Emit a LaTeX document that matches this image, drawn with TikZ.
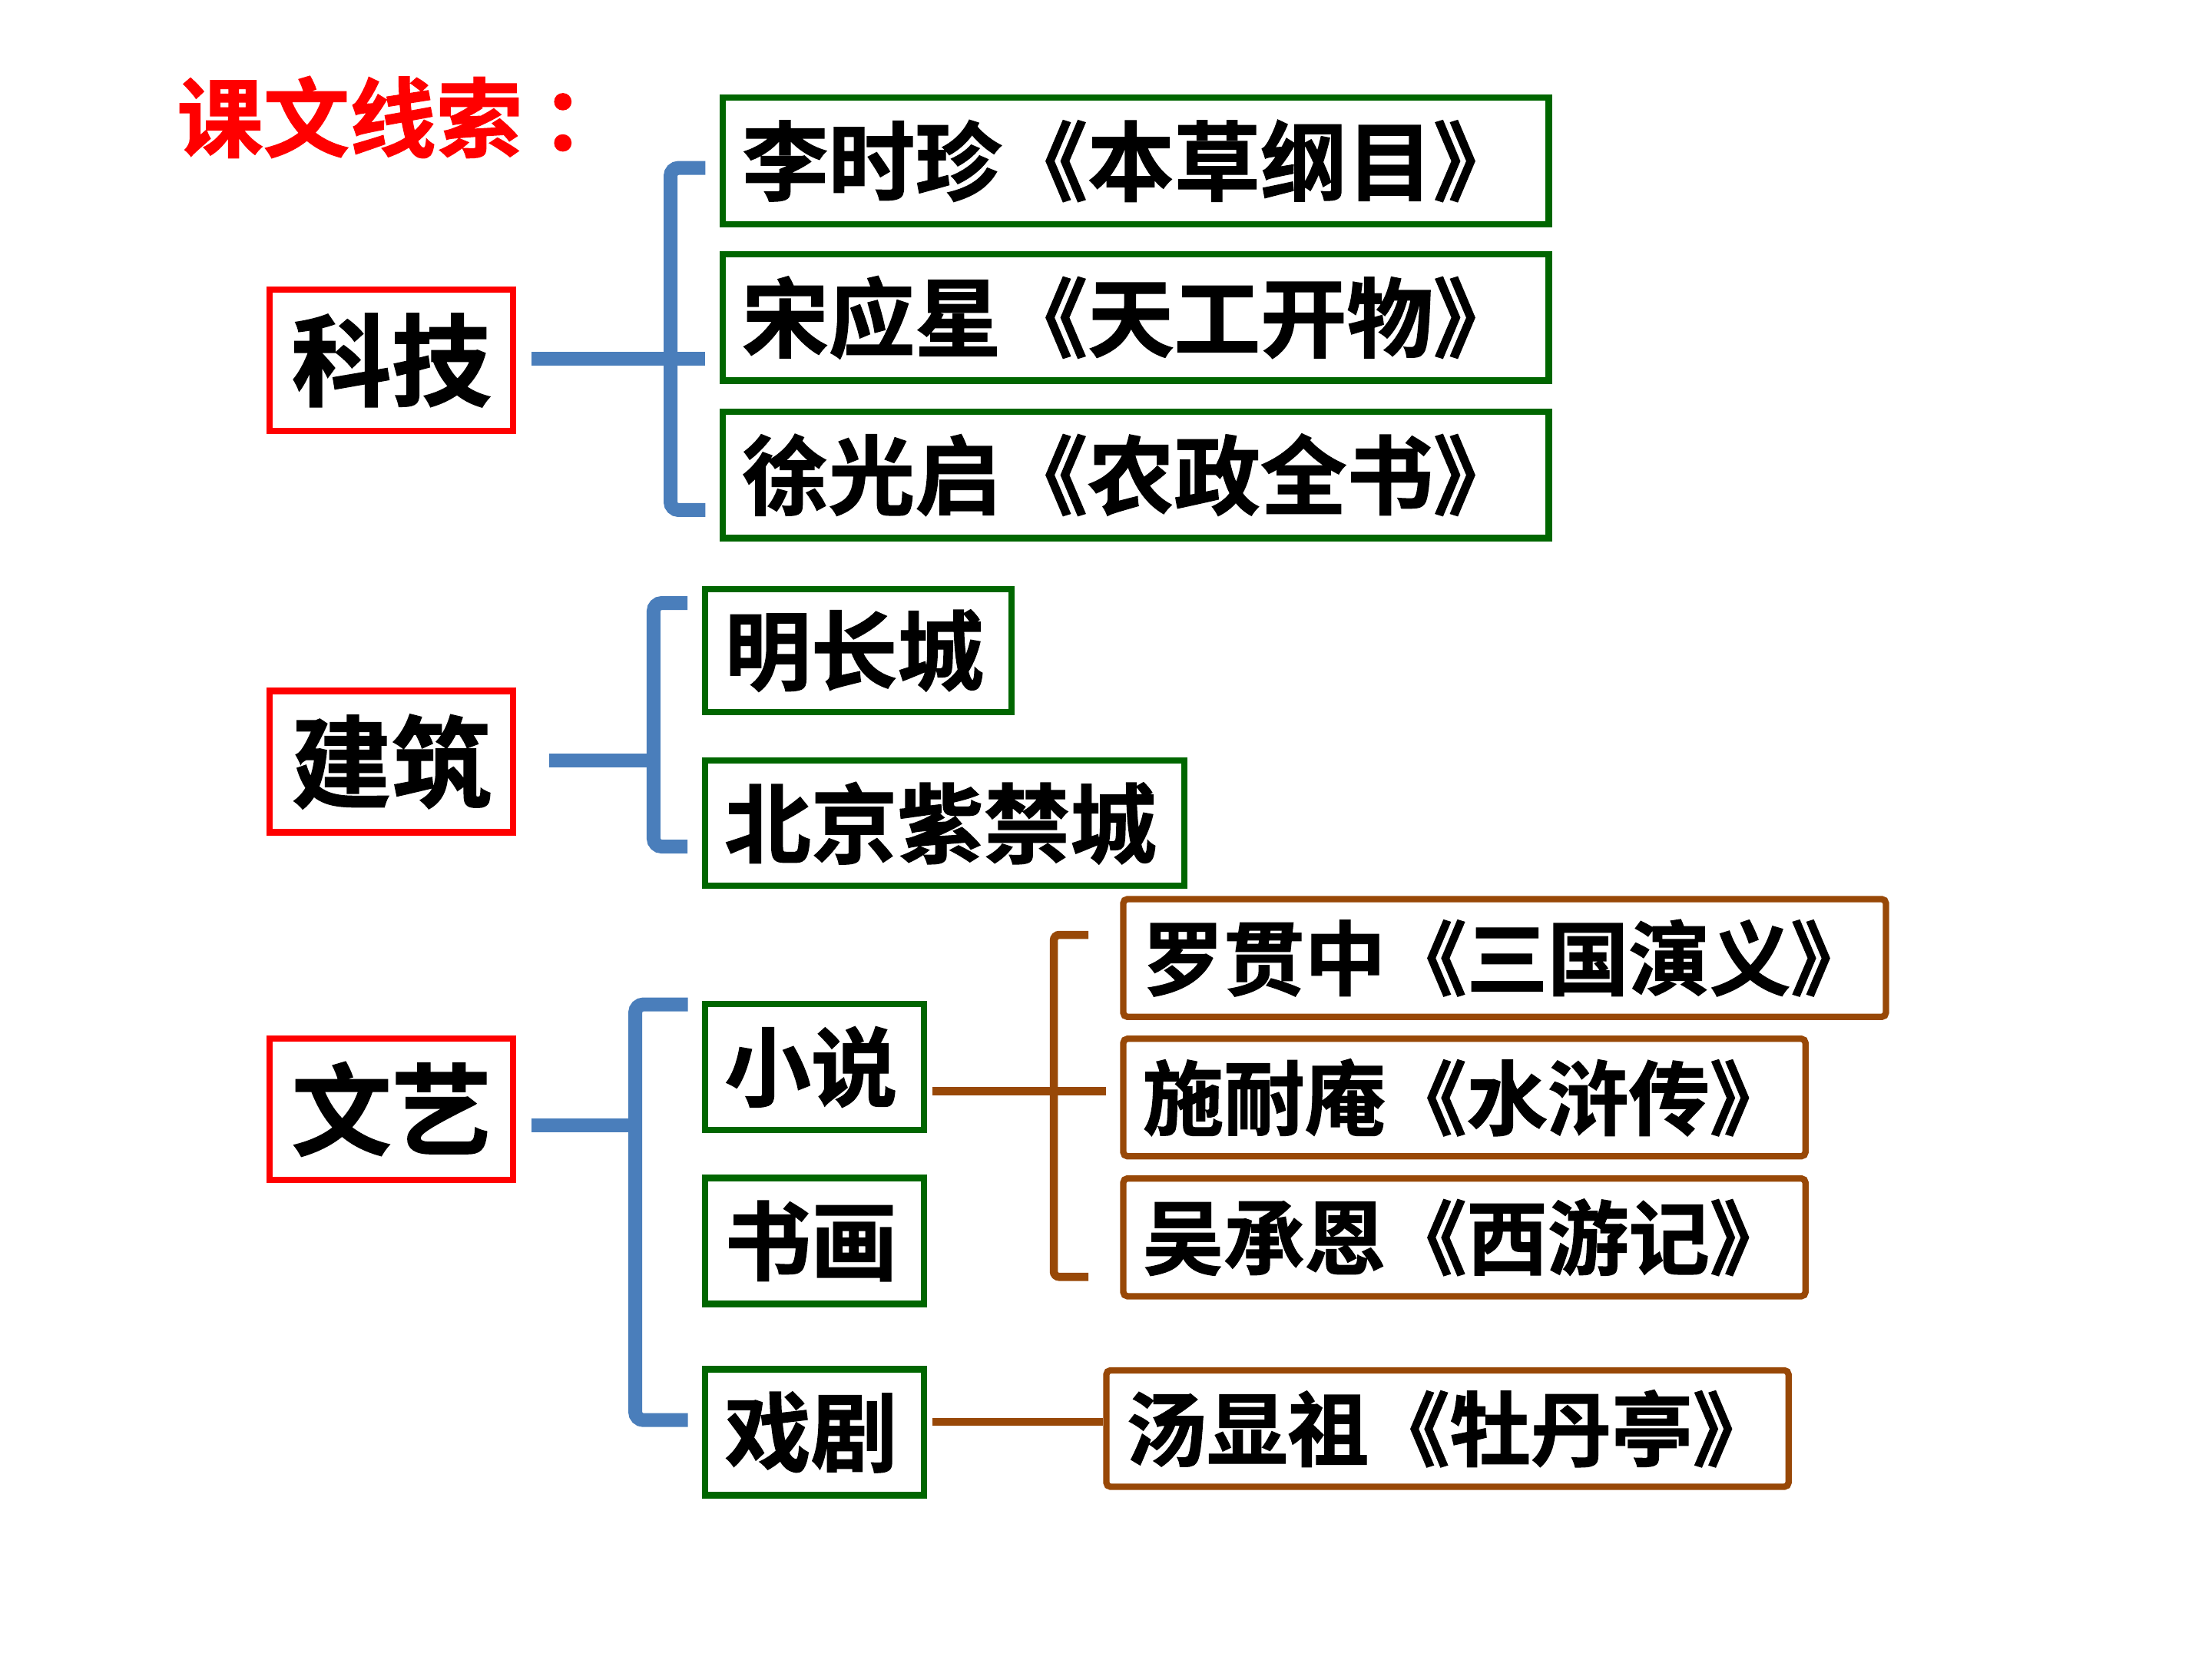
\documentclass[tikz,border=0pt]{standalone}
\usepackage{fontspec}
\setmainfont{Noto Sans CJK SC}[BoldFont={Noto Sans CJK SC Bold}, BoldFeatures={FakeBold=1.2}]
\usetikzlibrary{calc}
\definecolor{kred}{RGB}{255,0,0}
\definecolor{kgreen}{RGB}{0,102,0}
\definecolor{kblue}{RGB}{74,126,187}
\definecolor{kbrown}{RGB}{152,72,7}
\begin{document}
\begin{tikzpicture}[x=0.5226pt,y=-0.5226pt,
  bsz/.style n args={3}{minimum width=#1, minimum height=#2, text width=#3},
  anybox/.style={line width=2.36pt, outer sep=1.18pt, inner ysep=0pt, anchor=north west},
  redbox/.style={anybox, draw=kred, inner xsep=0pt, align=center,
    minimum width=90.15pt, minimum height=52.3pt,
    font=\fontsize{37}{40}\selectfont\bfseries},
  greenbox/.style={anybox, draw=kgreen, inner xsep=7.2pt, align=left,
    font=\fontsize{32}{36}\selectfont\bfseries},
  brownbox/.style={anybox, draw=kbrown, rounded corners=1.5pt, inner xsep=7.2pt, align=left,
    font=\fontsize{30}{34}\selectfont\bfseries},
  titletext/.style={text=kred, inner sep=0pt, anchor=west,
    font=\fontsize{32}{36}\selectfont\bfseries},
  blueline/.style={draw=kblue, line width=5.12pt, rounded corners=3pt},
  brownline/.style={draw=kbrown, line width=3pt, rounded corners=2pt},
]
\fill[white] (0,0) rectangle (1568,1176);
\path[use as bounding box] (0,0) rectangle (1568,1176);

% title
\node[titletext] (title) at (125,83) {课文线索\kern7pt：};

% level 1
\node[redbox] (kj) at (189,203) {科技};
\node[redbox] (jz) at (189,487.5) {建筑};
\node[redbox] (wy) at (189,733.8) {文艺};

% 科技 children
\node[greenbox, bsz={306pt}{46.8pt}{291.6pt}] (g1) at (510,67) {李时珍《本草纲目》};
\node[greenbox, bsz={306pt}{46.8pt}{291.6pt}] (g2) at (510,178) {宋应星《天工开物》};
\node[greenbox, bsz={306pt}{46.8pt}{291.6pt}] (g3) at (510,289.5) {徐光启《农政全书》};

% 建筑 children
\node[greenbox, bsz={113.4pt}{45.5pt}{99pt}] (mcc) at (497.6,415.4) {明长城};
\node[greenbox, bsz={177.6pt}{46.4pt}{163.2pt}] (zjc) at (497.6,536.8) {北京紫禁城};

% 文艺 children
\node[greenbox, bsz={81pt}{46.7pt}{66.6pt}] (xs) at (497.6,709.3) {小说};
\node[greenbox, bsz={81pt}{46.7pt}{66.6pt}] (sh) at (497.6,832.6) {书画};
\node[greenbox, bsz={81pt}{46.7pt}{66.6pt}] (xj) at (497.6,968.2) {戏剧};

% 小说 / 戏剧 children
\node[brownbox, bsz={282.5pt}{43.6pt}{268.1pt}] (sg) at (794,635) {罗贯中《三国演义》};
\node[brownbox, bsz={252.7pt}{43.5pt}{238.3pt}] (shz) at (794,734) {施耐庵《水浒传》};
\node[brownbox, bsz={252.7pt}{43.6pt}{238.3pt}] (xyj) at (794,833) {吴承恩《西游记》};
\node[brownbox, bsz={252.7pt}{43.1pt}{238.3pt}] (mdt) at (782,969) {汤显祖《牡丹亭》};

% 科技 bracket
\coordinate (kjT) at (500,119);
\coordinate (kjV) at (475.3,254.3);
\coordinate (kjB) at (500,361.5);
\coordinate (kjE) at (500,254.3);
\draw[blueline] (kjT) -| (kjV) |- (kjB);
\draw[blueline] ($(kj.east |- kjV)+(10.6,0)$) -- (kjE);

% 建筑 bracket
\coordinate (jzT) at (487.3,427.4);
\coordinate (jzV) at (463.3,539);
\coordinate (jzB) at (487.3,600);
\draw[blueline] (jzT) -| (jzV) |- (jzB);
\draw[blueline] ($(jz.east |- jzV)+(23.3,0)$) -- (jzV);

% 文艺 bracket
\coordinate (wyT) at (487.6,711.9);
\coordinate (wyV) at (450.3,797.6);
\coordinate (wyB) at (487.6,1006.5);
\draw[blueline] (wyT) -| (wyV) |- (wyB);
\draw[blueline] ($(wy.east |- wyV)+(10.6,0)$) -- (wyV);

% 小说 bracket
\coordinate (xsT) at (771.6,662.6);
\coordinate (xsV) at (747,773.4);
\coordinate (xsB) at (771.6,905);
\coordinate (xsE) at (784,773.4);
\draw[brownline] (xsT) -| (xsV) |- (xsB);
\draw[brownline] ($(xs.east |- xsV)+(3.6,0)$) -- (xsE);

% 戏剧 line
\coordinate (xjY) at (700,1007.7);
\draw[brownline] ($(xj.east |- xjY)+(3.6,0)$) -- (mdt.west |- xjY);
\end{tikzpicture}
\end{document}
